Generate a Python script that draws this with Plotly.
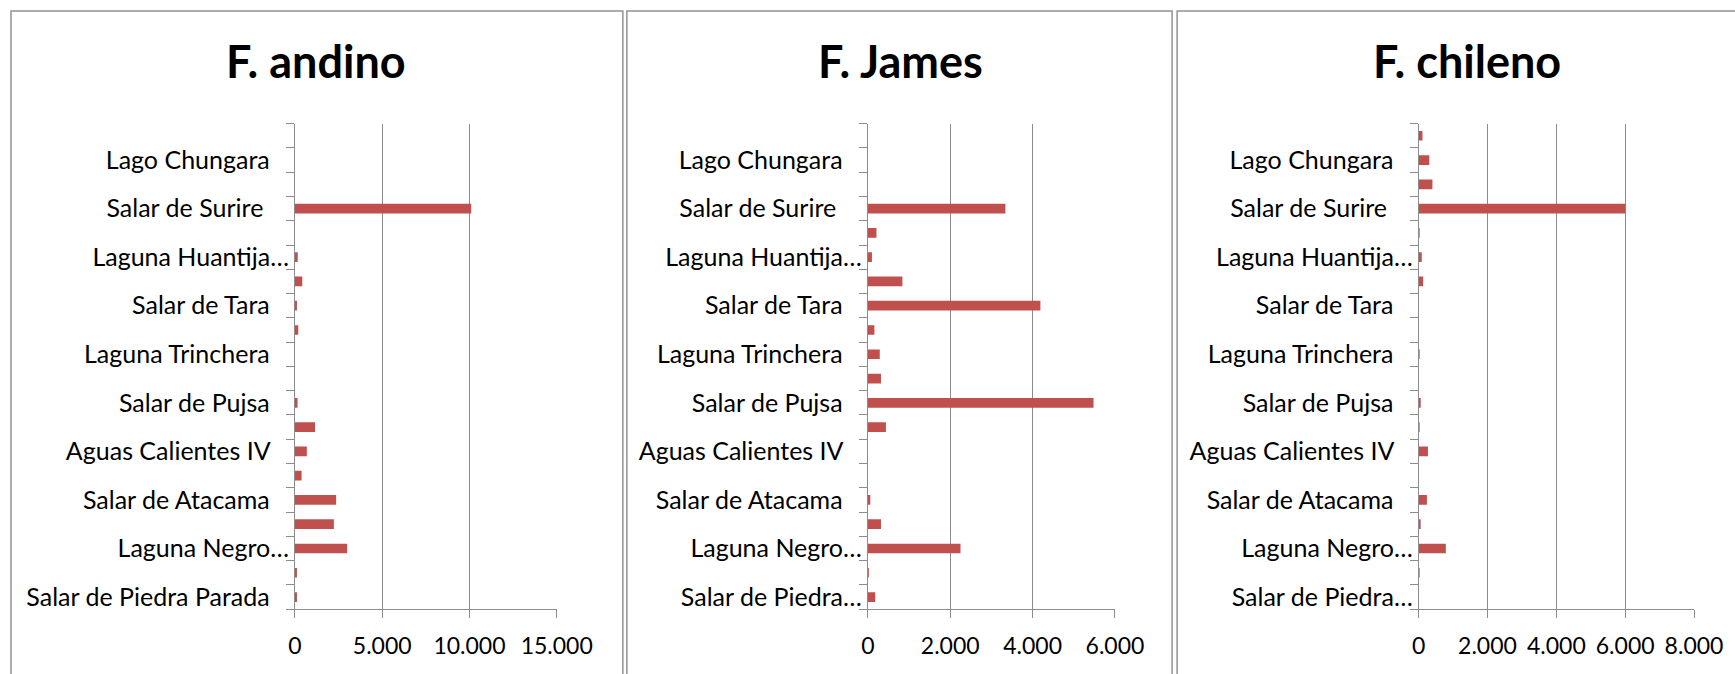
import plotly.graph_objects as go

W, H = 1735, 674
W_EFF = 1697  # empirical horizontal calibration

# Categories, bottom -> top (Excel order)
categories = [
    "Salar de Piedra Parada", "Laguna Santa Rosa", "Laguna del Negro Francisco",
    "Salar de Pedernales", "Salar de Atacama", "Laguna Miscanti",
    "Aguas Calientes IV", "Laguna Tuyajto", "Salar de Pujsa",
    "Salar de Quisquiro", "Laguna Trinchera", "Salar de Aguas Calientes I",
    "Salar de Tara", "Salar de Ascotán", "Laguna Huantija-Collacagua",
    "Salar del Huasco", "Salar de Surire", "Laguna Parinacota",
    "Lago Chungara", "Laguna Cotacotani",
]

labels_andino = [
    "Salar de Piedra Parada", "", "Laguna Negro…", "", "Salar de Atacama", "",
    "Aguas Calientes IV", "", "Salar de Pujsa", "", "Laguna Trinchera", "",
    "Salar de Tara", "", "Laguna Huantija…", "", "Salar de Surire ", "",
    "Lago Chungara", "",
]
labels_short = [
    "Salar de Piedra…", "", "Laguna Negro…", "", "Salar de Atacama", "",
    "Aguas Calientes IV", "", "Salar de Pujsa", "", "Laguna Trinchera", "",
    "Salar de Tara", "", "Laguna Huantija…", "", "Salar de Surire ", "",
    "Lago Chungara", "",
]

andino = [100, 60, 2990, 2230, 2360, 380, 680, 1150, 150, 0,
          0, 190, 100, 420, 160, 0, 10100, 0, 0, 0]
james = [180, 10, 2250, 320, 60, 0, 0, 440, 5480, 320,
         290, 160, 4190, 840, 100, 210, 3340, 0, 0, 0]
chileno = [0, 15, 790, 30, 240, 0, 270, 15, 60, 0,
           15, 0, 0, 130, 90, 10, 6000, 400, 310, 110]

titles = ["F. andino", "F. James", "F. chileno"]
series = [andino, james, chileno]
tick_labels = [labels_andino, labels_short, labels_short]
x_max = [15000, 6000, 8000]
x_step = [5000, 2000, 2000]

plot_x = [(294.8, 556.0), (866.4, 1113.0), (1416.0, 1692.0)]
plot_top, plot_bottom = 124, 611
panels = [(10, 622), (626, 1170), (1175, 1756)]
title_x = [316, 899, 1464]
panel_top = 11

BAR = "#C0504D"
GRID = "#8C8C8C"
FONT = "Lato"


def px(x):
    shift = 6.0 * max(0.0, min(1.0, (1450.0 - x) / 1150.0))
    return (x - shift) / W_EFF


def py(y):
    return 1 - y / H


def pad(s):
    if s == "" or s.endswith("…"):
        return s
    return s + "\u00a0" * 3


fig = go.Figure()
shapes = []
annotations = []
for i in range(3):
    n = "" if i == 0 else str(i + 1)
    fig.add_trace(go.Bar(
        x=series[i], y=categories, orientation="h",
        marker=dict(color=BAR, line=dict(width=0)),
        xaxis="x" + n, yaxis="y" + n, showlegend=False,
        hoverinfo="x+y",
    ))
    x0, x1 = plot_x[i]
    fig.update_layout(**{
        "xaxis" + n: dict(
            domain=[px(x0), min(px(x1), 1.0)], anchor="y" + n,
            range=[0, x_max[i]], dtick=x_step[i], tick0=0,
            tickformat=",d", showgrid=True, gridcolor=GRID, gridwidth=1,
            zeroline=False, showline=True, linecolor=GRID, linewidth=1,
            ticks="outside", ticklen=8, tickcolor=GRID, tickwidth=1,
            tickfont=dict(family=FONT, size=23, color="#000000"),
            ticklabelstandoff=8, fixedrange=True,
        ),
        "yaxis" + n: dict(
            domain=[py(plot_bottom), py(plot_top)], anchor="x" + n,
            type="category", categoryorder="array", categoryarray=categories,
            tickmode="array", tickvals=categories,
            ticktext=[pad(s) for s in tick_labels[i]],
            tickson="boundaries", ticks="outside", ticklen=8,
            tickcolor=GRID, tickwidth=1,
            showline=True, linecolor=GRID, linewidth=1, showgrid=False,
            tickfont=dict(family=FONT, size=25, color="#000000"),
            ticklabelstandoff=0, fixedrange=True,
        ),
    })
    l, r = panels[i]
    shapes.append(dict(type="rect", xref="paper", yref="paper",
                       x0=px(l), x1=px(r), y0=py(H + 20), y1=py(panel_top),
                       line=dict(color="#939393", width=1.5), layer="below"))
    annotations.append(dict(
        text="<b>" + titles[i] + "</b>", xref="paper", yref="paper",
        x=px(title_x[i]), y=py(61), xanchor="center",
        yanchor="middle", showarrow=False,
        font=dict(family=FONT, size=45, color="#000000"),
    ))

fig.update_layout(
    width=W, height=H, margin=dict(l=0, r=0, t=0, b=0), autosize=False,
    paper_bgcolor="white", plot_bgcolor="white",
    bargap=0.6, separators=",.", shapes=shapes, annotations=annotations,
    font=dict(family=FONT),
)

fig.write_html(
    "out.html",
    config={"displayModeBar": False, "responsive": False},
    post_script=(
        "document.body.style.margin='0';"
        "document.body.style.overflow='hidden';"
        "document.documentElement.style.overflow='hidden';"
    ),
)
